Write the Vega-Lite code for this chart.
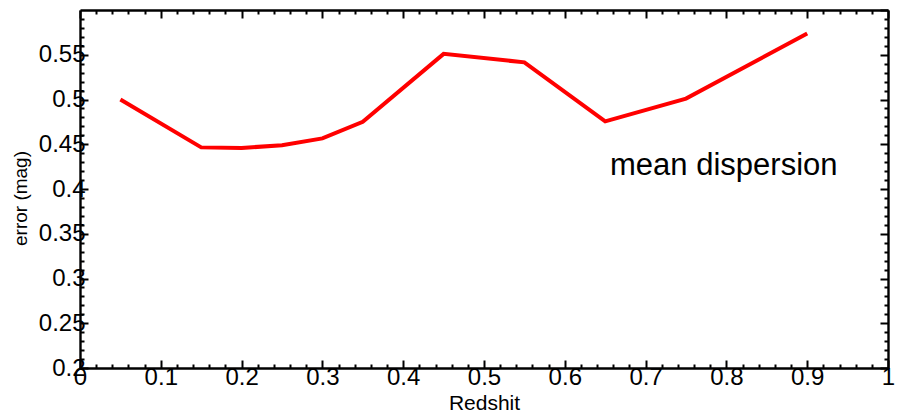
{
  "$schema": "https://vega.github.io/schema/vega-lite/v6.json",
  "width": 808,
  "height": 358,
  "autosize": {"type": "none"},
  "padding": {"left": 80, "top": 10, "right": 14, "bottom": 47},
  "background": "white",
  "config": {
    "view": {"stroke": null},
    "font": "Liberation Sans",
    "axis": {
      "grid": false,
      "domainColor": "black",
      "domainWidth": 2.4,
      "tickColor": "black",
      "tickWidth": 2,
      "labelFont": "Liberation Sans",
      "labelFontSize": 24,
      "labelColor": "black",
      "titleFont": "Liberation Sans",
      "titleFontWeight": "normal",
      "titleColor": "black",
      "labelFlush": false,
      "labelOverlap": false,
      "labelBound": false
    },
    "axisX": {"labelPadding": 5, "titleFontSize": 21},
    "axisY": {"labelPadding": 3, "titleFontSize": 19}
  },
  "data": {
    "values": [
      {"z": 0.05, "err": 0.500},
      {"z": 0.15, "err": 0.4465},
      {"z": 0.20, "err": 0.4458},
      {"z": 0.25, "err": 0.449},
      {"z": 0.30, "err": 0.4565},
      {"z": 0.35, "err": 0.475},
      {"z": 0.45, "err": 0.551},
      {"z": 0.55, "err": 0.5415},
      {"z": 0.65, "err": 0.4755},
      {"z": 0.75, "err": 0.501},
      {"z": 0.90, "err": 0.5737}
    ]
  },
  "resolve": {"axis": {"x": "independent", "y": "independent"}},
  "layer": [
    {
      "mark": {"type": "line", "color": "#ff0000", "strokeWidth": 4},
      "encoding": {
        "x": {
          "field": "z", "type": "quantitative",
          "scale": {"domain": [0, 1], "nice": false, "zero": false},
          "axis": {
            "orient": "bottom",
            "values": [0, 0.1, 0.2, 0.3, 0.4, 0.5, 0.6, 0.7, 0.8, 0.9, 1],
            "format": "~g",
            "tickSize": -8,
            "title": "Redshit",
            "titleFontSize": 21,
            "titleBaseline": "alphabetic",
            "titleY": 41
          }
        },
        "y": {
          "field": "err", "type": "quantitative",
          "scale": {"domain": [0.2, 0.6], "nice": false, "zero": false},
          "axis": {
            "orient": "left",
            "values": [0.2, 0.25, 0.3, 0.35, 0.4, 0.45, 0.5, 0.55],
            "format": "~g",
            "tickSize": -8,
            "title": "error (mag)",
            "titleFontSize": 19,
            "titleAngle": 270,
            "titleBaseline": "bottom",
            "titleX": -50,
            "titleY": 188
          }
        }
      }
    },
    {
      "mark": {"type": "point", "opacity": 0},
      "encoding": {
        "x": {
          "field": "z", "type": "quantitative",
          "axis": {
            "orient": "bottom",
            "values": [0.02,0.04,0.06,0.08,0.12,0.14,0.16,0.18,0.22,0.24,0.26,0.28,0.32,0.34,0.36,0.38,0.42,0.44,0.46,0.48,0.52,0.54,0.56,0.58,0.62,0.64,0.66,0.68,0.72,0.74,0.76,0.78,0.82,0.84,0.86,0.88,0.92,0.94,0.96,0.98],
            "labels": false, "domain": false, "tickSize": -4, "title": null
          }
        },
        "y": {
          "field": "err", "type": "quantitative",
          "axis": {
            "orient": "left",
            "values": [0.21,0.22,0.23,0.24,0.26,0.27,0.28,0.29,0.31,0.32,0.33,0.34,0.36,0.37,0.38,0.39,0.41,0.42,0.43,0.44,0.46,0.47,0.48,0.49,0.51,0.52,0.53,0.54,0.56,0.57,0.58,0.59],
            "labels": false, "domain": false, "tickSize": -4, "title": null
          }
        }
      }
    },
    {
      "mark": {"type": "point", "opacity": 0},
      "encoding": {
        "x": {
          "field": "z", "type": "quantitative",
          "axis": {
            "orient": "top",
            "values": [0, 0.1, 0.2, 0.3, 0.4, 0.5, 0.6, 0.7, 0.8, 0.9, 1],
            "labels": false, "tickSize": -8, "title": null
          }
        },
        "y": {
          "field": "err", "type": "quantitative",
          "axis": {
            "orient": "right",
            "values": [0.2, 0.25, 0.3, 0.35, 0.4, 0.45, 0.5, 0.55, 0.6],
            "labels": false, "tickSize": -8, "title": null
          }
        }
      }
    },
    {
      "mark": {"type": "point", "opacity": 0},
      "encoding": {
        "x": {
          "field": "z", "type": "quantitative",
          "axis": {
            "orient": "top",
            "values": [0.02,0.04,0.06,0.08,0.12,0.14,0.16,0.18,0.22,0.24,0.26,0.28,0.32,0.34,0.36,0.38,0.42,0.44,0.46,0.48,0.52,0.54,0.56,0.58,0.62,0.64,0.66,0.68,0.72,0.74,0.76,0.78,0.82,0.84,0.86,0.88,0.92,0.94,0.96,0.98],
            "labels": false, "domain": false, "tickSize": -4, "title": null
          }
        },
        "y": {
          "field": "err", "type": "quantitative",
          "axis": {
            "orient": "right",
            "values": [0.21,0.22,0.23,0.24,0.26,0.27,0.28,0.29,0.31,0.32,0.33,0.34,0.36,0.37,0.38,0.39,0.41,0.42,0.43,0.44,0.46,0.47,0.48,0.49,0.51,0.52,0.53,0.54,0.56,0.57,0.58,0.59],
            "labels": false, "domain": false, "tickSize": -4, "title": null
          }
        }
      }
    },
    {
      "data": {"values": [{"z": 0.656, "err": 0.4154, "label": "mean dispersion"}]},
      "mark": {"type": "text", "font": "Liberation Sans", "fontSize": 31, "align": "left", "baseline": "alphabetic", "color": "black"},
      "encoding": {
        "x": {"field": "z", "type": "quantitative", "axis": null},
        "y": {"field": "err", "type": "quantitative", "axis": null},
        "text": {"field": "label"}
      }
    }
  ]
}
